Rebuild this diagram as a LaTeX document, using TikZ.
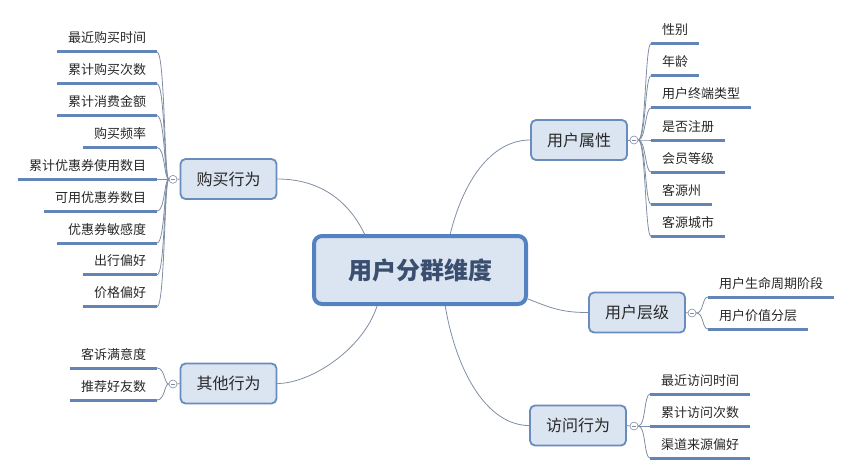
\documentclass[tikz,border=0pt]{standalone}
\usepackage{fontspec}
\newfontfamily\cjk{Noto Sans CJK SC}
\usepackage{tikz}
\definecolor{fondo}{RGB}{219,229,241}
\definecolor{borde}{RGB}{84,130,192}
\definecolor{borde2}{RGB}{104,140,190}
\definecolor{subraya}{RGB}{98,132,182}
\definecolor{linea}{RGB}{128,142,165}
\definecolor{titulo}{RGB}{58,78,112}
\definecolor{texto}{RGB}{40,40,40}

\begin{document}
\begin{tikzpicture}[x=1pt,y=-1pt,
  raiz/.style={draw=borde,line width=4pt,fill=fondo,rounded corners=8pt,minimum width=212pt,minimum height=68pt,font=\cjk\bfseries\fontsize{24}{28}\selectfont,text=titulo},
  tema/.style={draw=borde2,line width=1.8pt,fill=fondo,rounded corners=5pt,minimum width=96pt,minimum height=40pt,font=\cjk\fontsize{16}{18}\selectfont,text=texto},
  hoja/.style={font=\cjk\fontsize{13}{15}\selectfont,text=texto,inner xsep=11pt,inner ysep=6pt,text height=10pt,text depth=3pt,outer sep=0pt},
  raya/.style={line width=3pt,color=subraya},
  rama/.style={color=linea,line width=0.8pt},
  nudo/.style={circle,draw=linea,fill=white,line width=0.6pt,inner sep=0pt,minimum size=8pt,
    path picture={\draw[linea,line width=0.6pt] ([xshift=1.8pt]path picture bounding box.west) -- ([xshift=-1.8pt]path picture bounding box.east);}}
]
%marco de la imagen
\useasboundingbox (0,0) rectangle (853,475);

%nodo central
\node[raiz] (raiz) at (420,270) {用户分群维度};

%temas principales
\node[tema] (compra) at (228.5,179) {购买行为};
\node[tema] (otro) at (228.5,383.5) {其他行为};
\node[tema] (atri) at (579,140) {用户属性};
\node[tema] (nivel) at (637,312.5) {用户层级};
\node[tema] (visita) at (578,425.5) {访问行为};

%circulos de union
\node[nudo] (jc) at (173,179.3) {};
\node[nudo] (jo) at (173,384) {};
\node[nudo] (ja) at (634,140) {};
\node[nudo] (jn) at (692,313) {};
\node[nudo] (jv) at (634,426) {};
\draw[rama] (compra.west) -- (jc.east);
\draw[rama] (otro.west) -- (jo.east);
\draw[rama] (atri.east) -- (ja.west);
\draw[rama] (nivel.east) -- (jn.west);
\draw[rama] (visita.east) -- (jv.west);

%ramas desde el nodo central
\draw[rama] (raiz.50) .. controls +(15,-60) and +(-35,0) .. (atri.west);
\draw[rama] (compra.east) .. controls +(50,0) and +(-12,-25) .. (raiz.147);
\draw[rama] (raiz.-140) .. controls +(-15,45) and +(32,0) .. (otro.east);
\draw[rama] (raiz.-55) .. controls +(12,70) and +(-40,0) .. (visita.west);
\draw[rama] (raiz.-15) .. controls +(25,10) and +(-25,0) .. (nivel.west);

%hojas de compra
\foreach \t [count=\i] in {最近购买时间,累计购买次数,累计消费金额,购买频率,累计优惠券使用数目,可用优惠券数目,优惠券敏感度,出行偏好,价格偏好}{
  \node[hoja,anchor=south east] (c\i) at (157,{179.3+(\i-5)*31.85}) {\t};
  \draw[raya] (c\i.south west) -- (c\i.south east);
  \draw[rama] (jc.west) .. controls +(-4.5,0) and +(8,0) .. (c\i.south east);
}
%hojas de otros
\foreach \t [count=\i] in {客诉满意度,推荐好友数}{
  \node[hoja,anchor=south east] (o\i) at (157,{336+\i*32}) {\t};
  \draw[raya] (o\i.south west) -- (o\i.south east);
  \draw[rama] (jo.west) .. controls +(-4.5,0) and +(8,0) .. (o\i.south east);
}
%hojas de atributos
\foreach \t [count=\i] in {性别,年龄,用户终端类型,是否注册,会员等级,客源州,客源城市}{
  \node[hoja,anchor=south west] (a\i) at (651,{140+(\i-4)*32.1}) {\t};
  \draw[raya] (a\i.south west) -- (a\i.south east);
  \draw[rama] (ja.east) .. controls +(7.5,0) and +(-6,0) .. (a\i.south west);
}
%hojas de nivel
\foreach \t [count=\i] in {用户生命周期阶段,用户价值分层}{
  \node[hoja,anchor=south west] (n\i) at (708,{265+\i*32}) {\t};
  \draw[raya] (n\i.south west) -- (n\i.south east);
  \draw[rama] (jn.east) .. controls +(7.5,0) and +(-6,0) .. (n\i.south west);
}
%hojas de visita
\foreach \t [count=\i] in {最近访问时间,累计访问次数,渠道来源偏好}{
  \node[hoja,anchor=south west] (v\i) at (650,{362+\i*32}) {\t};
  \draw[raya] (v\i.south west) -- (v\i.south east);
  \draw[rama] (jv.east) .. controls +(7.5,0) and +(-6,0) .. (v\i.south west);
}
\end{tikzpicture}
\end{document}
